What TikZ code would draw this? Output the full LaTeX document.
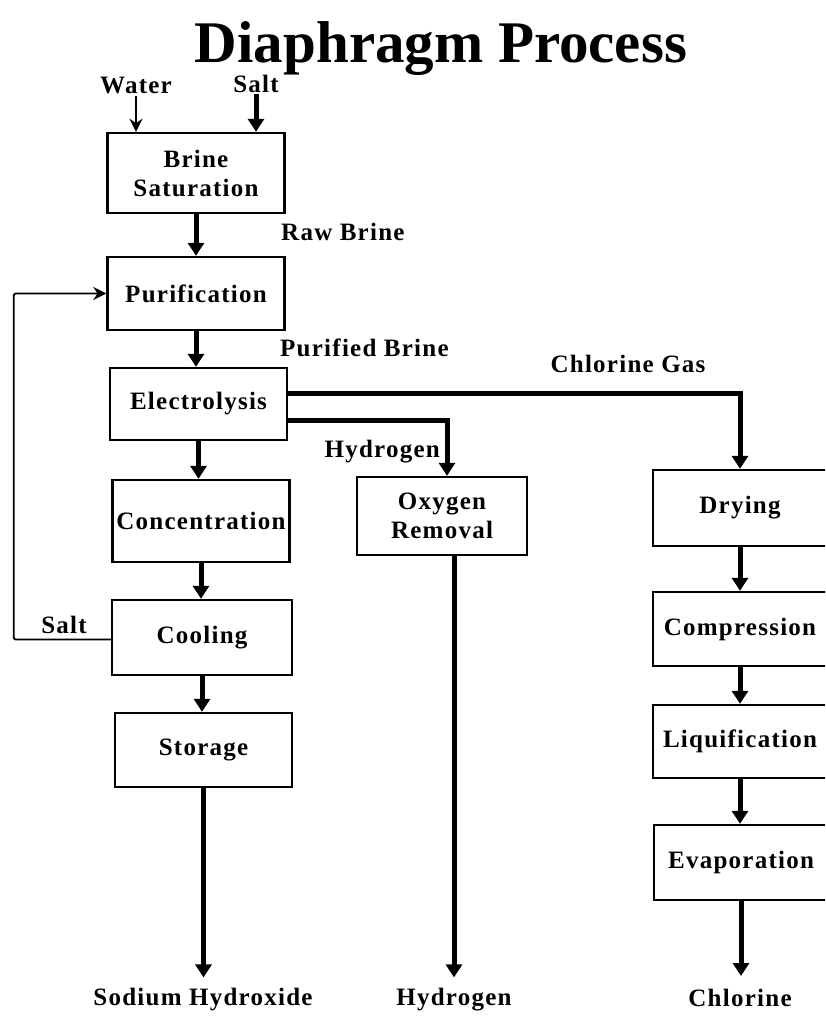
\documentclass[tikz,border=0pt]{standalone}
\usepackage{fontspec}
\setmainfont{Liberation Serif}
\newfontfamily\labelfamily[LetterSpace=5]{Liberation Serif}
\usetikzlibrary{arrows.meta,positioning}
\newcommand{\labelfont}{\labelfamily\bfseries\fontsize{25}{29}\selectfont}

\begin{document}
\begin{tikzpicture}[x=1pt,y=-1pt,
		block_unit/.style ={rectangle, draw=black, line width=2.4pt,
			minimum width=177pt, minimum height=74pt,
			align=center, inner sep=2pt, font=\labelfont},
		label_text/.style ={font=\labelfont, inner sep=1pt},
		line/.style ={draw, line width=5pt, -{Triangle[width=16pt,length=13pt]}},
		line_thin/.style ={draw, line width=1.8pt, -{Stealth[width=13pt,length=13pt]}}]
	\useasboundingbox (0,0) rectangle (825,1020);
	\clip (0,0) rectangle (825,1020);
	% title
	\node [font=\bfseries\fontsize{59}{61}\selectfont, anchor=base] (title) at (441,62) {Diaphragm Process};
	% brine line - left column
	\node [block_unit, minimum height=80pt] (saturation) at (196,173) {Brine\\Saturation};
	\node [block_unit, minimum height=73pt] (purification) at (196,293.5) {Purification};
	\node [block_unit, minimum height=72pt] (electrolysis) at (198.5,404) {Electrolysis};
	\node [block_unit, minimum height=82pt] (concentration) at (201,521) {Concentration};
	\node [block_unit, minimum width=180pt, minimum height=75pt] (cooling) at (202,637.5) {Cooling};
	\node [block_unit] (storage) at (203.5,750) {Storage};
	% hydrogen line - middle column
	\node [block_unit, minimum width=170pt, minimum height=78pt] (oxygen) at (442,516) {Oxygen\\Removal};
	% chlorine line - right column
	\node [block_unit, minimum width=174pt, minimum height=76pt] (drying) at (740,508) {Drying};
	\node [block_unit, minimum width=174pt] (compression) at (740,629) {Compression};
	\node [block_unit, minimum width=174pt, minimum height=73pt] (liquification) at (740,741.5) {Liquification};
	\node [block_unit, minimum width=174pt, minimum height=75pt] (evaporation) at (741,862.5) {Evaporation};
	% stream labels
	\node [label_text] (water) at (136,86) {Water};
	\node [label_text] (saltIn) at (256,84) {Salt};
	\node [label_text, anchor=west] (rawBrine) at (280,232) {Raw Brine};
	\node [label_text, anchor=west] (purifiedBrine) at (279,348) {Purified Brine};
	\node [label_text] (chlorineGas) at (628,364) {Chlorine Gas};
	\node [label_text, anchor=east] (hydrogenGas) at (441,452) {Hydrogen};
	\node [label_text] (saltBack) at (64,625) {Salt};
	% products
	\node [label_text] (sodiumHydroxide) at (203,1000) {Sodium Hydroxide};
	\node [label_text] (hydrogenOut) at (454,1000) {Hydrogen};
	\node [label_text] (chlorineOut) at (740,998) {Chlorine};
	% connecting nodes with paths
	\begin{scope}[every path/.style=line]
		% feeds
		\path (saltIn.south) -- (saltIn.south |- saturation.north);
		% brine line
		\path (saturation) -- (purification);
		\path (purification.south) -- (purification.south |- electrolysis.north);
		\path (electrolysis.south) -- (electrolysis.south |- concentration.north);
		\path (concentration.south) -- (concentration.south |- cooling.north);
		\path (cooling.south) -- (cooling.south |- storage.north);
		\path[shorten >=10pt] (storage.south) -- (storage.south |- sodiumHydroxide.north);
		% hydrogen line
		\path ([yshift=-16pt]electrolysis.east) -| ([xshift=5pt]oxygen.north);
		\path[shorten >=10pt] (hydrogenOut.north |- oxygen.south) -- (hydrogenOut.north);
		% chlorine line
		\path ([yshift=11pt]electrolysis.east) -| (drying.north);
		\path (drying.south) -- (drying.south |- compression.north);
		\path (compression.south) -- (compression.south |- liquification.north);
		\path (liquification.south) -- (liquification.south |- evaporation.north);
		\path[shorten >=12pt] (evaporation.south) -- (evaporation.south |- chlorineOut.north);
	\end{scope}
	% thin lines: water feed and salt recycle
	\path[line_thin] (water.south) -- (water.south |- saturation.north);
	\path[line_thin, rounded corners=2pt] ([yshift=-2pt]cooling.west) -- ++(-97,0) |- (purification.west);
\end{tikzpicture}
\end{document}
